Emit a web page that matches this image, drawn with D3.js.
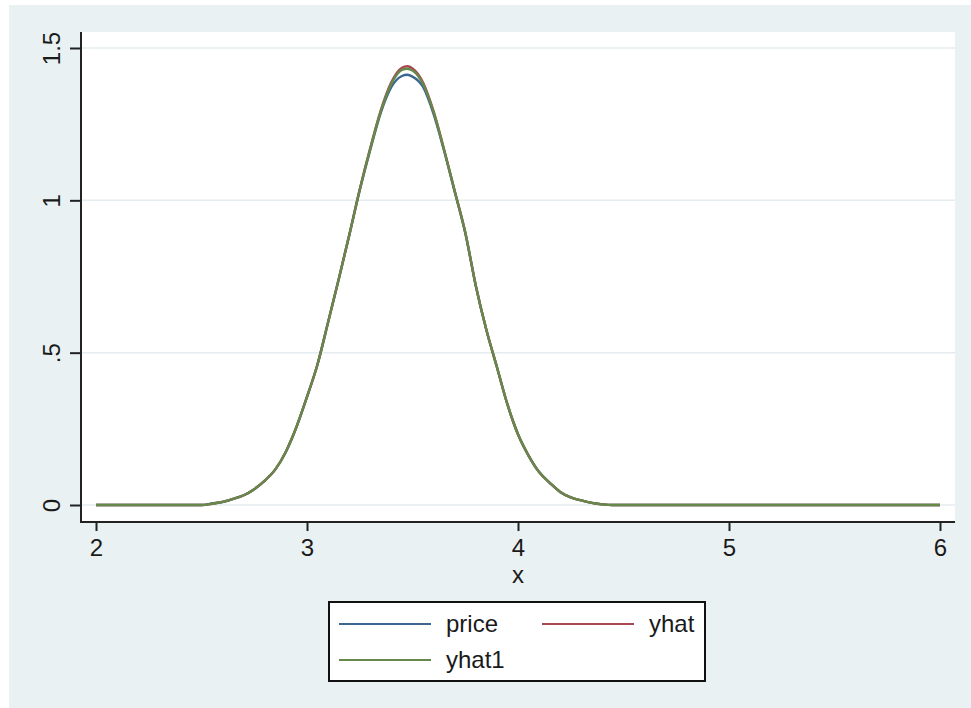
<!DOCTYPE html>
<html>
<head>
<meta charset="utf-8">
<script src="https://cdn.jsdelivr.net/npm/d3@7"></script>
<style>
  body { margin: 0; background: #ffffff; }
  text { font-family: "Liberation Sans", Arial, sans-serif; fill: #1a1a1a; }
</style>
</head>
<body>
<div id="viz"></div>
<script>
// values
const xValues = [2, 2.5, 2.55, 2.6, 2.65, 2.7, 2.75, 2.8, 2.85, 2.9, 2.95, 3, 3.05, 3.1, 3.15,
                 3.2, 3.25, 3.3, 3.35, 3.4, 3.45, 3.475, 3.5, 3.55, 3.6, 3.65, 3.7, 3.75, 3.8,
                 3.85, 3.9, 3.95, 4, 4.05, 4.1, 4.15, 4.2, 4.25, 4.3, 4.35, 4.4, 4.45, 6];

const priceValues = [0, 0, 0.005, 0.010, 0.020, 0.032, 0.052, 0.080, 0.117, 0.175, 0.256, 0.355, 0.462,
                     0.600, 0.740, 0.885, 1.033, 1.166, 1.288, 1.372, 1.408, 1.412, 1.406, 1.372,
                     1.283, 1.162, 1.028, 0.893, 0.720, 0.575, 0.453, 0.330, 0.232, 0.162, 0.108,
                     0.073, 0.043, 0.025, 0.015, 0.007, 0.002, 0, 0];

const yhatValues = [0, 0, 0.004, 0.010, 0.020, 0.032, 0.052, 0.080, 0.117, 0.175, 0.256, 0.355, 0.462,
                    0.600, 0.740, 0.885, 1.036, 1.172, 1.296, 1.388, 1.435, 1.440, 1.433, 1.387,
                    1.292, 1.166, 1.031, 0.895, 0.720, 0.575, 0.453, 0.330, 0.232, 0.162, 0.108,
                    0.073, 0.043, 0.025, 0.015, 0.007, 0.002, 0, 0];

const yhat1Values = [0, 0, 0.004, 0.010, 0.020, 0.032, 0.052, 0.080, 0.117, 0.175, 0.256, 0.355, 0.462,
                     0.600, 0.740, 0.885, 1.035, 1.170, 1.293, 1.383, 1.428, 1.432, 1.426, 1.382,
                     1.290, 1.165, 1.030, 0.895, 0.720, 0.575, 0.453, 0.330, 0.232, 0.162, 0.108,
                     0.073, 0.043, 0.025, 0.015, 0.007, 0.002, 0, 0];

const seriesNames = ['price', 'yhat', 'yhat1'];
const seriesColors = ['#3d6790', '#a8474f', '#66884a'];

const xTicks = [2, 3, 4, 5, 6];
const yTicks = [0, 0.5, 1, 1.5];
const yTickLabels = ['0', '.5', '1', '1.5'];

function buildChart(containerId) {
    const width = 971;
    const height = 708;

    // plot region (white) inside the light graph region
    const plot = { left: 81, right: 955, top: 32, bottom: 522 };

    const svg = d3.select(containerId)
                  .append('svg')
                  .attr('width', width)
                  .attr('height', height);

    svg.append('rect')
       .attr('x', 9)
       .attr('y', 5)
       .attr('width', width - 9)
       .attr('height', height - 5)
       .attr('fill', '#eaf1f3');

    svg.append('rect')
       .attr('x', plot.left)
       .attr('y', plot.top)
       .attr('width', plot.right - plot.left)
       .attr('height', plot.bottom - plot.top)
       .attr('fill', '#ffffff');

    const x = d3.scaleLinear()
                .domain([2, 6])
                .range([96, 940]);

    const y = d3.scaleLinear()
                .domain([0, 1.5])
                .range([505, 48]);

    // grid
    svg.append('g')
       .selectAll('line')
       .data(yTicks)
       .enter()
       .append('line')
       .attr('x1', plot.left)
       .attr('x2', plot.right)
       .attr('y1', d => y(d))
       .attr('y2', d => y(d))
       .attr('stroke', '#e4ecef')
       .attr('stroke-width', 1.5);

    // lines
    const series = [priceValues, yhatValues, yhat1Values];
    const line = d3.line()
                   .x((d, i) => x(xValues[i]))
                   .y(d => y(d))
                   .curve(d3.curveMonotoneX);

    series.forEach((vals, k) => {
        svg.append('path')
           .datum(vals)
           .attr('d', line)
           .attr('fill', 'none')
           .attr('stroke', seriesColors[k])
           .attr('stroke-width', 2.4)
           .attr('stroke-linejoin', 'round');
    });

    // x axis
    const xAxis = d3.axisBottom(x)
                    .tickValues(xTicks)
                    .tickFormat(d3.format('d'))
                    .tickSize(9)
                    .tickPadding(8);

    const gx = svg.append('g')
                  .attr('transform', 'translate(0,' + plot.bottom + ')')
                  .call(xAxis);
    gx.select('.domain').remove();
    gx.selectAll('.tick line').attr('stroke', '#222').attr('stroke-width', 2);
    gx.selectAll('.tick text')
      .attr('font-size', 24)
      .attr('font-family', '"Liberation Sans", Arial, sans-serif')
      .attr('fill', '#1a1a1a');

    svg.append('line')
       .attr('x1', plot.left)
       .attr('x2', plot.right)
       .attr('y1', plot.bottom)
       .attr('y2', plot.bottom)
       .attr('stroke', '#222')
       .attr('stroke-width', 2);

    // y axis
    const yAxis = d3.axisLeft(y)
                    .tickValues(yTicks)
                    .tickFormat((d, i) => yTickLabels[i])
                    .tickSize(11);

    const gy = svg.append('g')
                  .attr('transform', 'translate(' + plot.left + ',0)')
                  .call(yAxis);
    gy.select('.domain').remove();
    gy.selectAll('.tick line').attr('stroke', '#222').attr('stroke-width', 2);
    gy.selectAll('.tick text')
      .attr('x', 0)
      .attr('dy', 0)
      .attr('font-size', 24)
      .attr('font-family', '"Liberation Sans", Arial, sans-serif')
      .attr('fill', '#1a1a1a')
      .attr('text-anchor', 'middle')
      .attr('transform', 'translate(-21,0) rotate(-90)');

    svg.append('line')
       .attr('x1', plot.left)
       .attr('x2', plot.left)
       .attr('y1', plot.top)
       .attr('y2', plot.bottom + 1)
       .attr('stroke', '#222')
       .attr('stroke-width', 2);

    // axis title
    svg.append('text')
       .attr('x', (plot.left + plot.right) / 2)
       .attr('y', 583)
       .attr('text-anchor', 'middle')
       .attr('font-size', 24)
       .text('x');

    // legend
    const lg = svg.append('g');
    lg.append('rect')
      .attr('x', 329)
      .attr('y', 602)
      .attr('width', 376)
      .attr('height', 79)
      .attr('fill', '#ffffff')
      .attr('stroke', '#111')
      .attr('stroke-width', 2);

    const legendPos = [
        { kx: 339, ky: 624 },
        { kx: 542, ky: 624 },
        { kx: 339, ky: 660 }
    ];

    seriesNames.forEach((name, k) => {
        const p = legendPos[k];
        lg.append('line')
          .attr('x1', p.kx)
          .attr('x2', p.kx + 92)
          .attr('y1', p.ky)
          .attr('y2', p.ky)
          .attr('stroke', seriesColors[k])
          .attr('stroke-width', 2.2);
        lg.append('text')
          .attr('x', p.kx + 107)
          .attr('y', p.ky + 7.5)
          .attr('font-size', 24)
          .text(name);
    });
}

buildChart('#viz');
</script>
</body>
</html>
